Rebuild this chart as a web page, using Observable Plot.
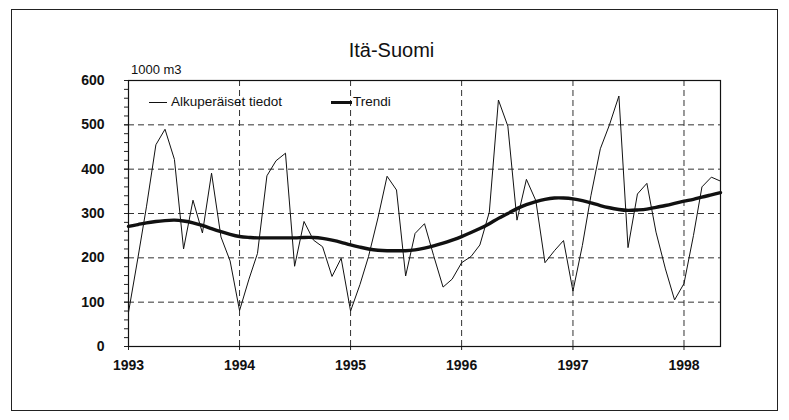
<!DOCTYPE html>
<html>
<head>
<meta charset="utf-8">
<script src="https://cdn.jsdelivr.net/npm/d3@7"></script>
<script src="https://cdn.jsdelivr.net/npm/@observablehq/plot@0.6"></script>
<style>
  body { margin: 0; background: #fff; }
  #wrap { position: relative; width: 789px; height: 420px; background: #fff; overflow: hidden; font-family: "Liberation Sans", Arial, sans-serif; color: #111; }
  #frame { position: absolute; left: 11px; top: 9px; width: 767px; height: 402px; border: 1px solid #222; box-sizing: border-box; }
  #title { position: absolute; left: 0; width: 783px; top: 40px; text-align: center; font-size: 20px; line-height: 20px; }
  #unit { position: absolute; left: 131px; top: 63px; font-size: 13px; line-height: 14px; }
  #chart { position: absolute; left: 0; top: 0; }
  .lg { position: absolute; font-size: 13.5px; line-height: 14px; }
  .sw { position: absolute; background: #111; }
</style>
</head>
<body>
<div id="wrap">
  <div id="frame"></div>
  <div id="title">Itä-Suomi</div>
  <div id="unit">1000 m3</div>
  <div id="chart"></div>
  <div class="sw" style="left:149px; top:102px; width:18px; height:1px;"></div>
  <div class="lg" style="left:171px; top:95px;">Alkuperäiset tiedot</div>
  <div class="sw" style="left:331px; top:101px; width:21px; height:3px;"></div>
  <div class="lg" style="left:353px; top:95px;">Trendi</div>
</div>
<script>
// Monthly series, January 1993 – May 1998 (1000 m3)
const startYear = 1993;
const original = [
  77, 200, 315, 455, 490, 422, 220, 330, 256, 391, 247, 193,
  81, 152, 210, 385, 419, 436, 181, 282, 240, 225, 158, 199,
  80, 140, 203, 290, 384, 353, 159, 255, 277, 205, 134, 152,
  189, 203, 229, 303, 556, 497, 285, 377, 329, 189, 216, 239,
  125, 228, 340, 446, 500, 565, 223, 344, 368, 258, 175, 105,
  142, 250, 360, 382, 373
];
const trend = [
  271, 275, 279, 282, 284, 285, 283, 279, 273, 266, 259, 253,
  248, 246, 245, 245, 245, 245, 245, 246, 246, 244, 240, 235,
  229, 224, 220, 217, 216, 216, 216, 218, 222, 227, 233, 240,
  248, 257, 266, 277, 289, 300, 311, 320, 327, 332, 335, 335,
  333, 329, 324, 318, 313, 309, 307, 308, 310, 314, 318, 323,
  328, 332, 337, 342, 347
];
const yearTicks = [1993, 1994, 1995, 1996, 1997, 1998];
const yMajorTicks = [0, 100, 200, 300, 400, 500, 600];
const yMinorTicks = d3.range(0, 601, 20);

const month = i => new Date(Date.UTC(startYear, i, 1));
const rowsOrig = original.map((v, i) => ({date: month(i), value: v}));
const rowsTrend = trend.map((v, i) => ({date: month(i), value: v}));
const yearDates = yearTicks.map(y => new Date(Date.UTC(y, 0, 1)));
const gridYears = yearDates.slice(1);
const gridValues = yMajorTicks.filter(v => v > 0 && v < 600);

const chart = Plot.plot({
  width: 789,
  height: 420,
  marginLeft: 128,
  marginRight: 69,
  marginTop: 80,
  marginBottom: 74,
  style: {background: "transparent", fontFamily: "'Liberation Sans', Arial, sans-serif", fontSize: "14px", color: "#111"},
  x: {type: "utc", domain: [month(0), month(original.length - 1)]},
  y: {domain: [0, 600]},
  marks: [
    Plot.gridY(gridValues, {stroke: "#333", strokeOpacity: 1, strokeWidth: 1, strokeDasharray: "6,4"}),
    Plot.gridX(gridYears, {stroke: "#333", strokeOpacity: 1, strokeWidth: 1, strokeDasharray: "6,4"}),
    Plot.axisY({ticks: yMinorTicks, tickSize: 4, tickFormat: () => "", label: null, stroke: "#222"}),
    Plot.axisY({ticks: yMajorTicks, tickSize: 4, tickPadding: 20, label: null, fontWeight: "bold", stroke: "#222"}),
    Plot.axisX({ticks: yearDates, tickSize: 4, tickPadding: 10, tickFormat: d3.utcFormat("%Y"), label: null, fontWeight: "bold", stroke: "#222"}),
    Plot.frame({stroke: "#111", strokeWidth: 1.2}),
    Plot.line(rowsOrig, {x: "date", y: "value", stroke: "#111", strokeWidth: 1}),
    Plot.line(rowsTrend, {x: "date", y: "value", stroke: "#111", strokeWidth: 3.4, curve: "natural"})
  ]
});
document.getElementById("chart").appendChild(chart);
</script>
</body>
</html>
